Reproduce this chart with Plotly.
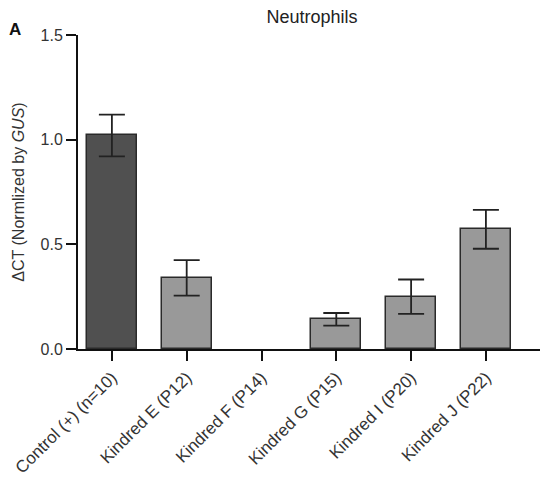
import plotly.graph_objects as go

categories = ["Control (+) (n=10)", "Kindred E (P12)", "Kindred F (P14)",
              "Kindred G (P15)", "Kindred I (P20)", "Kindred J (P22)"]
values = [1.02, 0.34, None, 0.142, 0.25, 0.572]
errors = [0.10, 0.085, None, 0.03, 0.082, 0.093]
colors = ["#505050", "#999999", "#999999", "#999999", "#999999", "#999999"]
y_ticks = [0.0, 0.5, 1.0, 1.5]
y_ticklabels = ["0.0", "0.5", "1.0", "1.5"]

FONT = "Liberation Sans, Arial, sans-serif"

# page has an 8px body margin; compensate
W, H = 540, 485
L, T, B = 70, 27, 144
PW, PH = W - L, H - T - B

fig = go.Figure()
fig.add_trace(go.Bar(
    x=list(range(len(categories))),
    y=values,
    width=0.667,
    marker=dict(color=colors, line=dict(color="#2a2a2a", width=1.5)),
    error_y=dict(type="data", array=errors, visible=True,
                 color="#222222", thickness=1.8, width=13),
    showlegend=False,
))

fig.update_layout(
    width=W, height=H,
    margin=dict(l=L, r=0, t=T, b=B, autoexpand=False),
    paper_bgcolor="white", plot_bgcolor="white",
    font=dict(family=FONT, color="#333333", size=15),
    title=dict(text="Neutrophils", x=(304) / W, xanchor="center",
               y=1 - 9 / H, yanchor="middle",
               font=dict(size=18, color="#222222")),
    bargap=0,
    annotations=[dict(text="<b>A</b>", xref="paper", yref="paper",
                      x=(7 - L) / PW, y=1 + (T - 22) / PH, xanchor="center", yanchor="middle",
                      showarrow=False, font=dict(size=17, color="#111111"))],
)
fig.update_xaxes(
    range=[-0.453, 5.83],
    tickmode="array", tickvals=list(range(len(categories))), ticktext=categories,
    tickangle=-45, ticks="outside", ticklen=10, tickwidth=2, tickcolor="#111111",
    showline=True, linecolor="#111111", linewidth=2,
    showgrid=False, zeroline=False,
    tickfont=dict(size=17, color="#333333"),
)
fig.update_yaxes(
    range=[0, 1.5],
    tickmode="array", tickvals=y_ticks, ticktext=y_ticklabels,
    ticks="outside", ticklen=10, tickwidth=2, tickcolor="#111111",
    showline=True, linecolor="#111111", linewidth=2,
    showgrid=False, zeroline=False,
    tickfont=dict(size=16, color="#333333"),
    title=dict(text="ΔCT (Normlized by <i>GUS</i>)", font=dict(size=16, color="#333333"), standoff=12),
)

fig.write_html("out.html")
